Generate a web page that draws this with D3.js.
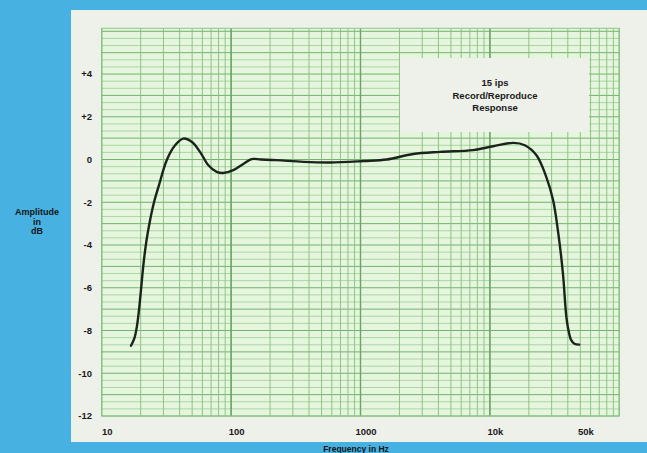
<!DOCTYPE html>
<html><head><meta charset="utf-8">
<script src="https://cdn.jsdelivr.net/npm/d3@7"></script>
<style>html,body{margin:0;padding:0;background:#47b2e2;}svg{display:block;}</style>
</head><body>
<svg id="c" width="647" height="453"></svg>
<script>
// Data
const freqHz = [16.84, 17.93, 18.74, 19.42, 20.13, 20.97, 22.19, 23.63, 25.37, 27.72, 31.8, 36.9, 42.7, 49.6, 57.5, 66.7, 77.4, 87, 104, 125, 144, 170, 225, 362, 582, 1055, 1600, 2550, 4125, 7400, 10600, 15200, 18600, 22900, 27300, 30800, 33800, 36700, 38900, 40500, 42500, 45000, 49000];
const amplitudeDb = [-8.71, -8.34, -7.78, -7.03, -6.09, -4.96, -3.79, -2.85, -2.0, -1.2, -0.03, 0.67, 0.98, 0.83, 0.36, -0.27, -0.58, -0.63, -0.5, -0.2, 0.02, 0.0, -0.03, -0.11, -0.14, -0.07, 0.0, 0.26, 0.36, 0.44, 0.62, 0.78, 0.67, 0.2, -0.82, -1.91, -3.47, -5.35, -7.3, -8.0, -8.45, -8.62, -8.66];
const xTickValues = [10, 100, 1000, 10000, 50000];
const xTickLabels = ["10", "100", "1000", "10k", "50k"];
const yTickValues = [4, 2, 0, -2, -4, -6, -8, -10, -12];
const yTickLabels = ["+4", "+2", "0", "-2", "-4", "-6", "-8", "-10", "-12"];
const titleLines = ["15 ips", "Record/Reproduce", "Response"];
const yAxisTitle = ["Amplitude", "in", "dB"];
const xAxisTitle = "Frequency in Hz";

const svg = d3.select("#c");
const L = 101.7, R = 619.3, T = 28.3, B = 416;
const x = d3.scaleLog().domain([10, 100000]).range([L, R]);
const y = d3.scaleLinear().domain([-12, 6.14]).range([B, T]);
const font = "'Liberation Sans', Arial, sans-serif";

// white panel
svg.append("rect").attr("x", 71).attr("y", 10).attr("width", 647 - 71).attr("height", 432).attr("fill", "#eef0ea");
// plot bg
svg.append("rect").attr("x", L).attr("y", T).attr("width", R - L).attr("height", B - T).attr("fill", "#e6f5dd");

const g = svg.append("g");
// horizontal grid lines every 1/3 dB
for (let k = 0; k <= 54; k++) {
  const v = -12 + k / 3;
  const major = k % 3 === 0;
  g.append("line").attr("x1", L).attr("x2", R).attr("y1", y(v)).attr("y2", y(v))
    .attr("stroke", major ? "#72b26d" : "#9acf92").attr("stroke-width", major ? 1 : 0.8);
}
// vertical log grid
for (let d = 10; d < 100000; d *= 10) {
  for (let m = 1; m <= 10; m++) {
    const f = d * m;
    if (f > 100000) continue;
    const dec = (m === 1 || m === 10);
    g.append("line").attr("x1", x(f)).attr("x2", x(f)).attr("y1", T).attr("y2", B)
      .attr("stroke", dec ? "#68a664" : "#84c07e").attr("stroke-width", dec ? 1.2 : 0.9);
  }
}
g.append("rect").attr("x", L).attr("y", T).attr("width", R - L).attr("height", B - T)
  .attr("fill", "none").attr("stroke", "#8cc886").attr("stroke-width", 1);

// legend box
svg.append("rect").attr("x", 400).attr("y", 58).attr("width", 189).attr("height", 74).attr("fill", "#eef0ea");
svg.append("g").selectAll("text").data(titleLines).join("text")
  .attr("x", 495).attr("y", (d, i) => 86 + i * 12.5).attr("text-anchor", "middle")
  .attr("font-family", font).attr("font-weight", "bold").attr("font-size", 9.5).attr("fill", "#1a1a1a")
  .text(d => d);

// curve
const pts = freqHz.map((f, i) => [x(f), y(amplitudeDb[i])]);
svg.append("path").attr("d", d3.line().curve(d3.curveCatmullRom.alpha(0.5))(pts))
  .attr("fill", "none").attr("stroke", "#1b241b").attr("stroke-width", 2.4).attr("stroke-linejoin", "round").attr("stroke-linecap", "round");

// y tick labels
svg.append("g").selectAll("text").data(yTickValues).join("text")
  .attr("x", 92).attr("y", d => y(d)).attr("dy", "0.35em").attr("text-anchor", "end")
  .attr("font-family", font).attr("font-weight", "bold").attr("font-size", 9.5).attr("fill", "#1a1a1a")
  .text((d, i) => yTickLabels[i]);
// x tick labels
svg.append("g").selectAll("text").data(xTickValues).join("text")
  .attr("x", d => x(d) + 5.5).attr("y", 432).attr("dy", "0.35em").attr("text-anchor", "middle")
  .attr("font-family", font).attr("font-weight", "bold").attr("font-size", 9.5).attr("fill", "#1a1a1a")
  .text((d, i) => xTickLabels[i]);

// axis titles
svg.append("g").selectAll("text").data(yAxisTitle).join("text")
  .attr("x", 37).attr("y", (d, i) => 215 + i * 9.5).attr("text-anchor", "middle")
  .attr("font-family", font).attr("font-weight", "bold").attr("font-size", 9).attr("fill", "#141414")
  .text(d => d);
svg.append("text").attr("x", 356).attr("y", 452).attr("text-anchor", "middle")
  .attr("font-family", font).attr("font-weight", "bold").attr("font-size", 8.5).attr("fill", "#141414")
  .text(xAxisTitle);
</script>
</body></html>
